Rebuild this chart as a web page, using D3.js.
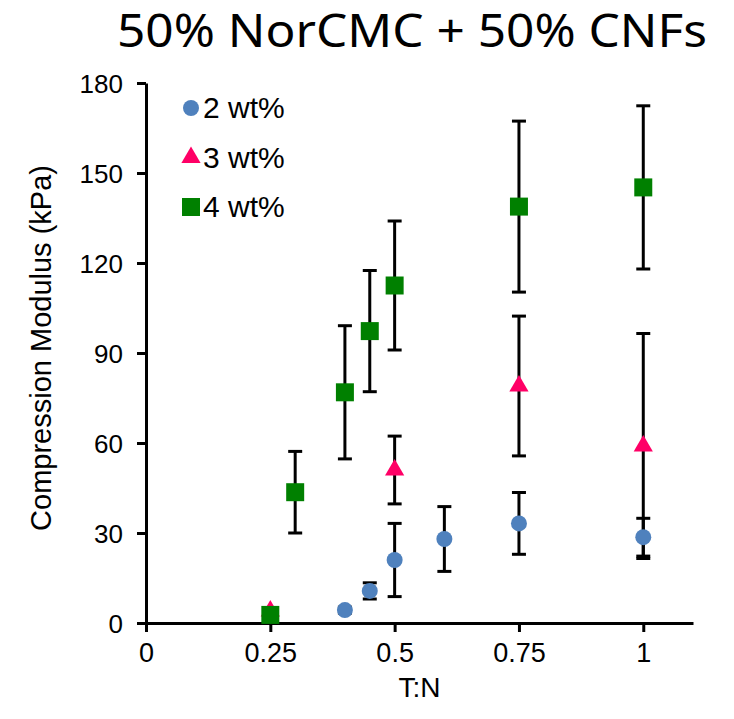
<!DOCTYPE html>
<html>
<head>
<meta charset="utf-8">
<script src="https://cdn.jsdelivr.net/npm/d3@7"></script>
<style>
  body { margin: 0; background: #fff; }
  text { font-family: "Liberation Sans", Arial, sans-serif; fill: #000; }
</style>
</head>
<body>
<div id="chart"></div>
<script>
// T:N ratio (x) and compression modulus in kPa (y) with error bars
const tn2 = [0.4, 0.45, 0.5, 0.6, 0.75, 1];
const mod2 = [4.3, 10.7, 21, 28, 33.2, 28.6];
const err2 = [1, 2.7, 12.2, 10.8, 10.3, 6.3];

const tn3 = [0.25, 0.5, 0.75, 1];
const mod3 = [4, 51, 79, 59];
const err3 = [0, 11.3, 23.3, 37.5];

const tn4 = [0.25, 0.3, 0.4, 0.45, 0.5, 0.75, 1];
const mod4 = [2.7, 43.6, 76.9, 97.3, 112.5, 138.8, 145.2];
const err4 = [0, 13.6, 22.2, 20.2, 21.5, 28.5, 27.2];

const seriesNames = ['2 wt%', '3 wt%', '4 wt%'];
const seriesColors = ['#4f81bd', '#ff0066', '#008000'];
const seriesShapes = ['circle', 'triangle', 'square'];

const xTicks = [0, 0.25, 0.5, 0.75, 1];
const yTicks = [0, 30, 60, 90, 120, 150, 180];

// build the series table from the arrays
const series = [
  { x: tn2, y: mod2, e: err2 },
  { x: tn3, y: mod3, e: err3 },
  { x: tn4, y: mod4, e: err4 }
].map((s, i) => ({
  name: seriesNames[i],
  color: seriesColors[i],
  shape: seriesShapes[i],
  points: s.x.map((x, j) => ({ x: x, y: s.y[j], e: s.e[j] }))
}));

const width = 734;
const height = 719;

const svg = d3.select('#chart')
  .append('svg')
    .attr('width', width)
    .attr('height', height);

// scales
const x = d3.scaleLinear()
  .domain([0, 1.1])
  .range([146, 693]);
const y = d3.scaleLinear()
  .domain([0, 180])
  .range([623, 83]);

// title
svg.append('text')
  .attr('x', 412)
  .attr('y', 47)
  .attr('text-anchor', 'middle')
  .attr('textLength', 590)
  .attr('lengthAdjust', 'spacingAndGlyphs')
  .style('font-family', '"Noto Sans", sans-serif')
  .style('font-size', '45px')
  .text('50% NorCMC + 50% CNFs');

// y axis
const yAxis = svg.append('g')
  .attr('transform', `translate(${x(0)},0)`)
  .call(d3.axisLeft(y).tickValues(yTicks).tickSizeInner(9).tickSizeOuter(0).tickPadding(14));
yAxis.select('.domain').attr('stroke-width', 3);
yAxis.selectAll('.tick line').attr('stroke-width', 3);
yAxis.selectAll('.tick text')
  .style('font-size', '26px')
  .attr('dy', '0.36em');

// x axis
const xAxis = svg.append('g')
  .attr('transform', `translate(0,${y(0)})`)
  .call(d3.axisBottom(x).tickValues(xTicks).tickFormat(d3.format('')).tickSizeInner(9).tickSizeOuter(0).tickPadding(11));
xAxis.select('.domain').attr('stroke-width', 3);
xAxis.selectAll('.tick line').attr('stroke-width', 3);
xAxis.selectAll('.tick text')
  .style('font-size', '27px');

// axis titles
svg.append('text')
  .attr('x', (x.range()[0] + x.range()[1]) / 2)
  .attr('y', 697)
  .attr('text-anchor', 'middle')
  .style('font-size', '28px')
  .text('T:N');

svg.append('text')
  .attr('transform', `translate(51,348) rotate(-90)`)
  .attr('text-anchor', 'middle')
  .style('font-size', '29px')
  .text('Compression Modulus (kPa)');

// error bars first, markers on top
const capHalf = 7;
series.forEach(s => {
  const g = svg.append('g').attr('class', 'errbars');
  const pts = s.points.filter(p => p.e > 0);
  g.selectAll('line.stem')
    .data(pts)
    .join('line')
      .attr('class', 'stem')
      .attr('x1', d => x(d.x))
      .attr('x2', d => x(d.x))
      .attr('y1', d => y(d.y + d.e))
      .attr('y2', d => y(d.y - d.e))
      .attr('stroke', '#000')
      .attr('stroke-width', 3);
  g.selectAll('line.capTop')
    .data(pts)
    .join('line')
      .attr('class', 'capTop')
      .attr('x1', d => x(d.x) - capHalf)
      .attr('x2', d => x(d.x) + capHalf)
      .attr('y1', d => y(d.y + d.e))
      .attr('y2', d => y(d.y + d.e))
      .attr('stroke', '#000')
      .attr('stroke-width', 3);
  g.selectAll('line.capBot')
    .data(pts)
    .join('line')
      .attr('class', 'capBot')
      .attr('x1', d => x(d.x) - capHalf)
      .attr('x2', d => x(d.x) + capHalf)
      .attr('y1', d => y(d.y - d.e))
      .attr('y2', d => y(d.y - d.e))
      .attr('stroke', '#000')
      .attr('stroke-width', 3);
});

// marker shapes
const symbolPath = {
  circle: d3.symbol(d3.symbolCircle, 201)(),
  triangle: d3.symbol(d3.symbolTriangle, 160)(),
  square: d3.symbol(d3.symbolSquare, 324)()
};

series.forEach(s => {
  svg.append('g')
    .selectAll('path')
    .data(s.points)
    .join('path')
      .attr('d', symbolPath[s.shape])
      .attr('transform', d => `translate(${x(d.x)},${y(d.y)})`)
      .attr('fill', s.color);
});

// legend
const legend = svg.append('g')
  .selectAll('g')
  .data(series)
  .join('g')
    .attr('transform', (d, i) => `translate(191,${108 + i * 49.5})`);
legend.append('path')
  .attr('d', d => symbolPath[d.shape])
  .attr('fill', d => d.color);
legend.append('text')
  .attr('x', 12)
  .attr('y', 10)
  .style('font-size', '30px')
  .text(d => d.name);
</script>
</body>
</html>
